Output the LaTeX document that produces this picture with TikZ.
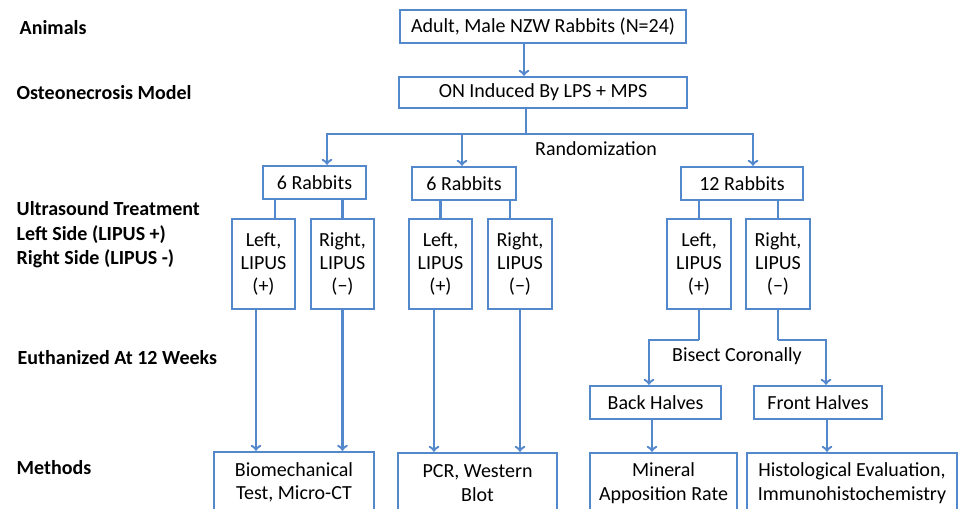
\documentclass[tikz,border=0pt]{standalone}
\usepackage{fontspec}
\setmainfont{Carlito}
\usepackage{tikz}
\usetikzlibrary{positioning,calc,arrows}

\definecolor{flowblue}{RGB}{84,136,204}

\begin{document}
\begin{tikzpicture}[x=0.75pt, y=-0.75pt,
    box/.style={draw=flowblue, line width=1.8pt, inner sep=0pt, align=center, font=\fontsize{15}{17.5}\selectfont},
    line/.style={draw=flowblue, line width=1.8pt},
    arr/.style={line, ->, >=to},
    stage/.style={anchor=west, align=left, font=\bfseries\fontsize{15}{18.5}\selectfont},
    note/.style={font=\fontsize{15}{17.5}\selectfont}]
    \clip (0,0) rectangle (962,509);

    % Stage labels
    \node[stage] (animals) at (15,28) {Animals};
    \node[stage] (model) at (12,93) {Osteonecrosis Model};
    \node[stage] (treatment) at (12,235) {Ultrasound Treatment\\Left Side (LIPUS +)\\Right Side (LIPUS -)};
    \node[stage] (euth) at (13,358) {Euthanized At 12 Weeks};
    \node[stage] (methods) at (12,468) {Methods};

    % Animals and model
    \node[box, minimum width=214.5pt, minimum height=24.75pt] (adult) at (543,26.5) {Adult, Male NZW Rabbits (N=24)};
    \node[box, minimum width=216pt, minimum height=23.25pt] (onm) at (543,92.5) {ON Induced By LPS + MPS};

    % Groups
    \node[box, minimum width=77pt, minimum height=24.75pt] (grp_a) at (314.5,182.5) {6 Rabbits};
    \node[box, minimum width=78pt, minimum height=24.75pt] (grp_b) at (464,183.5) {6 Rabbits};
    \node[box, minimum width=91.5pt, minimum height=24.75pt] (grp_c) at (742,183.5) {12 Rabbits};

    % Sides
    \node[box, minimum width=47.25pt, minimum height=67.5pt] (left_a) at (263.5,264) {Left,\\LIPUS\\(+)};
    \node[box, minimum width=47.25pt, minimum height=67.5pt] (right_a) at (342.5,264) {Right,\\LIPUS\\(−)};
    \node[box, minimum width=47.25pt, minimum height=67.5pt] (left_b) at (440.5,264) {Left,\\LIPUS\\(+)};
    \node[box, minimum width=48pt, minimum height=67.5pt] (right_b) at (520,264) {Right,\\LIPUS\\(−)};
    \node[box, minimum width=48pt, minimum height=67.5pt] (left_c) at (699,264) {Left,\\LIPUS\\(+)};
    \node[box, minimum width=48pt, minimum height=67.5pt] (right_c) at (778,264) {Right,\\LIPUS\\(−)};

    % Halves
    \node[box, minimum width=98.25pt, minimum height=24.75pt] (back) at (655.5,402.5) {Back Halves};
    \node[box, minimum width=96pt, minimum height=24.75pt] (front) at (818,402.5) {Front Halves};

    % Methods
    \node[box, minimum width=120pt, minimum height=45pt] (biomech) at (294,482) {Biomechanical\\Test, Micro-CT};
    \node[box, minimum width=119.25pt, minimum height=45pt] (pcr) at (477.5,483) {PCR, Western\\Blot};
    \node[box, minimum width=110.25pt, minimum height=45pt] (mar) at (663.5,483) {Mineral\\Apposition Rate};
    \node[box, minimum width=157.5pt, minimum height=45pt] (histo) at (852,483) {Histological Evaluation,\\Immunohistochemistry};

    % Texts on the forks
    \node[note] (rand_txt) at (596,149) {Randomization};
    \node[note] (bisect_txt) at (737,356) {Bisect Coronally};

    % Connectors
    \draw[arr] ($(adult.south)+(-19,0)$) -- ($(onm.north)+(-19,0)$);
    \coordinate (rand) at ($(onm.south)+(-17,25)$);
    \draw[line] ($(onm.south)+(-17,0)$) -- (rand);
    \draw[arr] (rand) -| ($(grp_a.north)+(12.5,0)$);
    \draw[arr] (rand) -| ($(grp_c.north)+(11,0)$);
    \draw[arr] ($(rand -| grp_b.north)+(-2,0)$) -- ($(grp_b.north)+(-2,0)$);

    \draw[line] ($(left_a.north)+(11.5,0)$) -- ($(left_a.north |- grp_a.south)+(11.5,0)$);
    \draw[line] (right_a.north) -- (right_a.north |- grp_a.south);
    \draw[line] (left_b.north) -- (left_b.north |- grp_b.south);
    \draw[line] ($(right_b.north)+(-10,0)$) -- ($(right_b.north |- grp_b.south)+(-10,0)$);
    \draw[line] (left_c.north) -- (left_c.north |- grp_c.south);
    \draw[line] (right_c.north) -- (right_c.north |- grp_c.south);

    \draw[arr] ($(left_a.south)+(-7.5,0)$) -- ($(left_a.south |- biomech.north)+(-7.5,0)$);
    \draw[arr] (right_a.south) -- (right_a.south |- biomech.north);
    \draw[arr] ($(left_b.south)+(-6.5,0)$) -- ($(left_b.south |- pcr.north)+(-6.5,0)$);
    \draw[arr] (right_b.south) -- (right_b.south |- pcr.north);

    \coordinate (bisect) at ($(left_c.south)+(0,30)$);
    \draw[line] (left_c.south) -- (bisect);
    \draw[line] (right_c.south) -- (right_c.south |- bisect);
    \draw[arr] (bisect) -| ($(back.north)+(-6.5,0)$);
    \draw[arr] (right_c.south |- bisect) -| ($(front.north)+(8,0)$);

    \draw[arr] ($(back.south)+(-3.5,0)$) -- ($(back.south |- mar.north)+(-3.5,0)$);
    \draw[arr] ($(front.south)+(9,0)$) -- ($(front.south |- histo.north)+(9,0)$);
\end{tikzpicture}
\end{document}
